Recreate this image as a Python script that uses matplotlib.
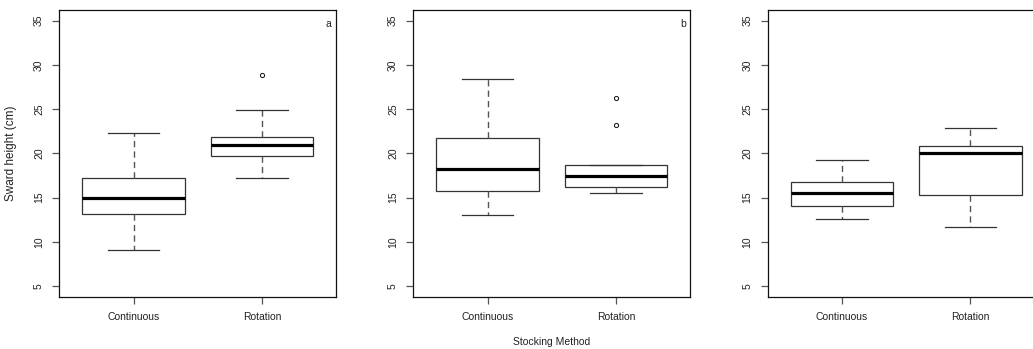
import matplotlib
matplotlib.use('Agg')
import matplotlib.pyplot as plt

plt.rcParams['font.family'] = ['Liberation Sans', 'DejaVu Sans']
plt.rcParams['font.size'] = 7.5

groups = ['Continuous', 'Rotation']
panel_tags = ['a', 'b', '']

# five-number summaries per panel: [Continuous, Rotation]
whislo = [[9.1, 17.25], [13.0, 15.5], [12.6, 11.7]]
q1 = [[13.2, 19.75], [15.7, 16.25], [14.0, 15.25]]
med = [[15.0, 21.0], [18.2, 17.4], [15.55, 20.05]]
q3 = [[17.25, 21.9], [21.7, 18.7], [16.75, 20.8]]
whishi = [[22.3, 24.95], [28.35, 18.7], [19.3, 22.9]]
fliers = [[[], [28.85]], [[], [26.2, 23.25]], [[], []]]

yticks = [5, 10, 15, 20, 25, 30, 35]

fig = plt.figure(figsize=(10.33, 3.49), dpi=100)

lefts = [59.3, 413.3, 767.7]
ax_w = 277.0
ax_bottom = 52.3
ax_h = 286.7

for i in range(3):
    ax = fig.add_axes([lefts[i] / 1033, ax_bottom / 349, ax_w / 1033, ax_h / 349])
    stats = []
    for j in range(2):
        stats.append({
            'whislo': whislo[i][j], 'q1': q1[i][j], 'med': med[i][j],
            'q3': q3[i][j], 'whishi': whishi[i][j], 'fliers': fliers[i][j],
        })
    ax.bxp(stats, positions=[1, 2], widths=0.8, capwidths=0.4,
           showfliers=True, patch_artist=True,
           boxprops=dict(facecolor='white', edgecolor='#333333', linewidth=0.9),
           medianprops=dict(color='black', linewidth=2.3, solid_capstyle='butt'),
           whiskerprops=dict(color='#555555', linewidth=1.0, linestyle=(0, (4.5, 3))),
           capprops=dict(color='#333333', linewidth=0.9),
           flierprops=dict(marker='o', markersize=3, markerfacecolor='none',
                           markeredgecolor='#111111', markeredgewidth=0.7))
    ax.set_xlim(0.42, 2.58)
    ax.set_ylim(3.8, 36.2)
    ax.set_xticks([1, 2])
    ax.set_xticklabels(groups)
    ax.set_yticks(yticks)
    ax.set_yticklabels([str(t) for t in yticks], rotation=90, va='center')
    ax.tick_params(axis='both', length=5, width=0.9, color='#555555',
                   labelcolor='#222222', labelsize=7.5)
    ax.tick_params(axis='x', pad=6)
    ax.tick_params(axis='y', pad=6)
    for sp in ax.spines.values():
        sp.set_linewidth(0.9)
        sp.set_color('#111111')
    if panel_tags[i]:
        ax.text(0.973, 0.952, panel_tags[i], transform=ax.transAxes,
                ha='center', va='center', fontsize=7.5, color='#222222')
    if i == 0:
        ax.set_ylabel('Sward height (cm)', fontsize=8.5, color='#222222')
        ax.yaxis.set_label_coords(-0.154, 0.5)

fig.text(551.7 / 1033, 1 - 341.7 / 349, 'Stocking Method', ha='center', va='center',
         fontsize=7.5, color='#222222')

fig.savefig('out.png', dpi=100, facecolor='white')
